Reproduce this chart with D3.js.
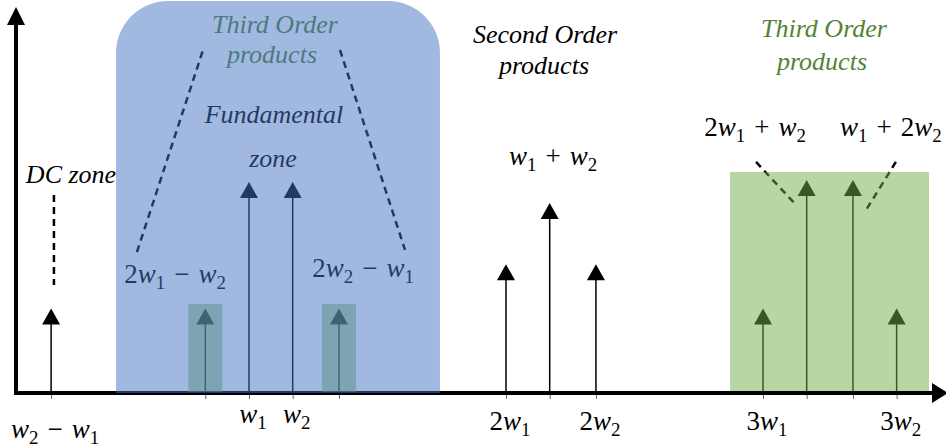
<!DOCTYPE html>
<html><head><meta charset="utf-8">
<script src="https://cdn.jsdelivr.net/npm/d3@7"></script>
<style>
html,body{margin:0;padding:0;background:#fff;}
svg{display:block;}
text{white-space:pre;}
</style></head>
<body><svg id="chart" width="946" height="448"></svg>
<script>
// ---- data ----
const tones   = ["w_2 − w_1","2w_1 − w_2","w_1","w_2","2w_2 − w_1","2w_1","w_1 + w_2","2w_2","3w_1","2w_1 + w_2","w_1 + 2w_2","3w_2"];
const freqs   = [0.23, 0.83, 1.00, 1.17, 1.35, 2.00, 2.17, 2.35, 3.00, 3.17, 3.35, 3.52];
const amps    = [0.40, 0.40, 1.00, 1.00, 0.40, 0.61, 0.90, 0.61, 0.40, 1.01, 1.01, 0.40];
const groups  = ["dc","im3","fund","fund","im3","h2","im2","h2","h3","im3","im3","h3"];
const axisLabels = ["w_2 − w_1","","w_1","w_2","","2w_1","","2w_2","3w_1","","","3w_2"];
const zoneNames = ["DC zone","Fundamental zone","Second Order products","Third Order products"];

// ---- layout ----
const W = 946, H = 448;
const x = d3.scaleLinear().domain([0, 3]).range([-8, 763]);
const y = d3.scaleLinear().domain([0, 1]).range([393, 182]);
const svg = d3.select("#chart");
const serif = "'Liberation Serif', 'Times New Roman', serif";
const labelBase = {dc: 438, fund: 423, h2: 430, im2: 430, h3: 430, im3: 430};

function mathText(sel, str, size) {
  const toks = str.replace(/ /g, "\u2004").match(/_\d|w|[^_w]+/g);
  let shifted = false;
  toks.forEach(t => {
    const ts = sel.append("tspan");
    if (t[0] === "_") {
      ts.text(t.slice(1)).attr("font-size", size * 0.7).attr("dy", size * 0.24);
      shifted = true;
    } else {
      ts.text(t).attr("font-style", t === "w" ? "italic" : "normal");
      if (shifted) { ts.attr("dy", -size * 0.24); shifted = false; }
    }
  });
}

// ---- arrows (spectral lines) ----
const lines = svg.append("g");
tones.forEach((t, i) => {
  const cx = x(freqs[i]), top = y(amps[i]);
  lines.append("line").attr("x1", cx).attr("x2", cx).attr("y1", y(0)).attr("y2", top + 14)
    .attr("stroke", "#000").attr("stroke-width", 1.5);
  lines.append("path").attr("d", `M${cx},${top} L${cx - 9},${top + 16} L${cx + 9},${top + 16} Z`).attr("fill", "#000");
});

// ---- axis ticks ----
const axisG = svg.append("g").attr("transform", `translate(0,${y(0)})`)
  .call(d3.axisBottom(x).tickValues(freqs).tickSize(6).tickFormat(""));
axisG.select(".domain").remove();
axisG.selectAll(".tick line").attr("stroke", "#666").attr("stroke-width", 1);

// axis labels
tones.forEach((t, i) => {
  if (!axisLabels[i]) return;
  const tx = svg.append("text").attr("x", x(freqs[i]) + 4).attr("y", labelBase[groups[i]])
    .attr("text-anchor", "middle").attr("font-family", serif).attr("font-size", 27).attr("fill", "#000");
  mathText(tx, axisLabels[i], 27);
});

// upper math labels
const upper = [
  {i: 1, cx: 175, by: 283, anchor: "middle"},
  {i: 4, cx: 363, by: 277, anchor: "middle"},
  {i: 6, cx: 553, by: 165, anchor: "middle"},
  {i: 9, cx: 755, by: 136, anchor: "middle"},
  {i: 10, cx: 840, by: 136, anchor: "start"}
];
upper.forEach(u => {
  const tx = svg.append("text").attr("x", u.cx).attr("y", u.by).attr("text-anchor", u.anchor)
    .attr("font-family", serif).attr("font-size", 27).attr("fill", "#000");
  mathText(tx, tones[u.i], 27);
});

// zone titles
const titles = [
  {t: "DC zone", x: 71, y: 183, c: "#000"},
  {t: "Fundamental", x: 274, y: 123, c: "#000"},
  {t: "zone", x: 273, y: 167, c: "#000"},
  {t: "Third Order", x: 275, y: 33, c: "#548235"},
  {t: "products", x: 272, y: 63, c: "#548235"},
  {t: "Second Order", x: 545, y: 43, c: "#000"},
  {t: "products", x: 544, y: 74, c: "#000"},
  {t: "Third Order", x: 824, y: 37, c: "#548235"},
  {t: "products", x: 822, y: 70, c: "#548235"}
];
titles.forEach(d => svg.append("text").attr("x", d.x).attr("y", d.y).attr("text-anchor", "middle")
  .attr("font-family", serif).attr("font-style", "italic").attr("font-size", 26).attr("fill", d.c).text(d.t));

// dashed leaders (in data units)
const leaders = [
  [0.241, 0.938, 0.241, 0.512],
  [0.564, 0.668, 0.825, 1.640],
  [1.354, 1.626, 1.607, 0.678],
  [2.973, 1.095, 3.125, 0.896],
  [3.517, 1.095, 3.401, 0.867]
];
leaders.forEach(l => svg.append("line").attr("x1", x(l[0])).attr("y1", y(l[1])).attr("x2", x(l[2])).attr("y2", y(l[3]))
  .attr("stroke", "#000").attr("stroke-width", 2.5).attr("stroke-dasharray", "7,5"));

// axes
svg.append("line").attr("x1", 14).attr("x2", 934).attr("y1", y(0)).attr("y2", y(0)).attr("stroke", "#000").attr("stroke-width", 4);
svg.append("path").attr("d", `M932,${y(0) - 10} L948,${y(0)} L932,${y(0) + 10} Z`).attr("fill", "#000");
svg.append("line").attr("x1", 16).attr("x2", 16).attr("y1", y(0) + 2).attr("y2", 22).attr("stroke", "#000").attr("stroke-width", 4);
svg.append("path").attr("d", `M7,25 L16,7 L25,25 Z`).attr("fill", "#000");

// ---- translucent zones ----
const green = "#70AD47", blue = "#4472C4";
[1, 4].forEach(i => {
  const cx = x(freqs[i]);
  svg.append("rect").attr("x", cx - 17).attr("width", 34).attr("y", 304).attr("height", y(0) - 1 - 304)
    .attr("fill", green).attr("fill-opacity", 0.5);
});
svg.append("rect").attr("x", x(2.872)).attr("width", x(3.646) - x(2.872)).attr("y", 172).attr("height", 391 - 172)
  .attr("fill", green).attr("fill-opacity", 0.5);
const bx0 = x(0.4825), bx1 = x(1.743), btop = 1, bbot = y(0), r = 52;
svg.append("path").attr("d",
  `M${bx0},${bbot} V${btop + r} A${r},${r} 0 0 1 ${bx0 + r},${btop} H${bx1 - r} A${r},${r} 0 0 1 ${bx1},${btop + r} V${bbot} Z`)
  .attr("fill", blue).attr("fill-opacity", 0.5);
</script>
</body></html>
